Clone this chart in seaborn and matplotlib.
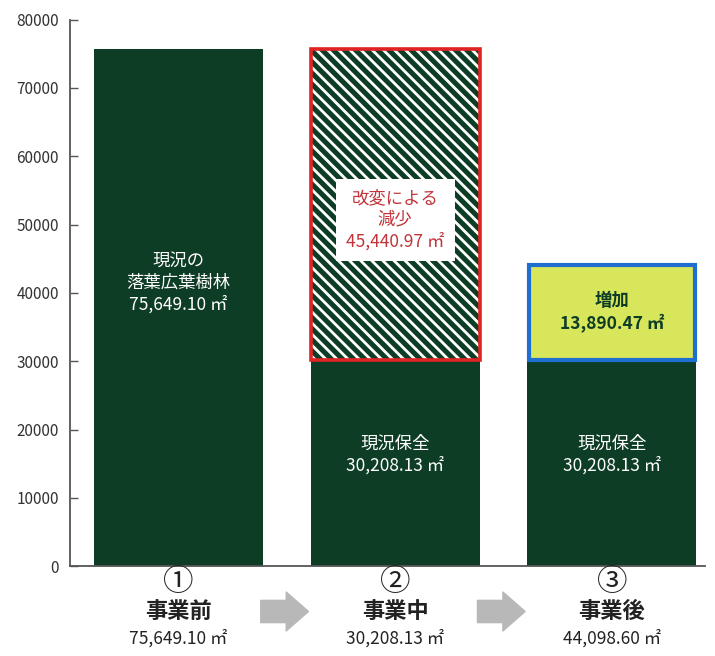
import numpy as np
import pandas as pd
import matplotlib
matplotlib.use("Agg")
import matplotlib.pyplot as plt
import matplotlib.transforms as mtransforms
import seaborn as sns

# data
stages = ["事業前", "事業中", "事業後"]
stage_marks = ["①", "②", "③"]
stage_totals = ["75,649.10 ㎡", "30,208.13 ㎡", "44,098.60 ㎡"]
kept_area = [75649.10, 30208.13, 30208.13]
lost_area = [0, 45440.97, 0]
added_area = [0, 0, 13890.47]
kept_labels = ["現況の\n落葉広葉樹林\n75,649.10 ㎡", "現況保全\n30,208.13 ㎡", "現況保全\n30,208.13 ㎡"]
kept_label_y = [41500, 16300, 16300]
lost_label = "改変による\n減少\n45,440.97 ㎡"
added_label = "増加\n13,890.47 ㎡"
yticks = [0, 10000, 20000, 30000, 40000, 50000, 60000, 70000, 80000]

green = "#0e3d26"
red_edge = "#e02424"
red_text = "#c0343a"
yellow = "#d8e65c"
blue_edge = "#1f6fd0"
grey = "#555555"

sns.set_theme(style="white")
plt.rcParams['font.family'] = ['Noto Sans CJK JP', 'DejaVu Sans']
plt.rcParams['hatch.color'] = 'white'
plt.rcParams['hatch.linewidth'] = 2.0

df = pd.DataFrame({"stage": stages, "kept": kept_area, "lost": lost_area, "added": added_area})

fig = plt.figure(figsize=(7.15, 6.56), dpi=100)
ax = fig.add_axes([0.098, 0.137, 0.888, 0.833])

width = 0.78
sns.barplot(data=df, x="stage", y="kept", order=stages, color=green, saturation=1,
            width=width, ax=ax, linewidth=0)

x = np.arange(len(stages))
lost = np.array(lost_area)
added = np.array(added_area)
kept = np.array(kept_area)

m = lost > 0
ax.bar(x[m], lost[m], bottom=kept[m], width=width, color=green, hatch="\\\\\\",
       edgecolor="white", linewidth=0)
ax.bar(x[m], lost[m], bottom=kept[m], width=width, fill=False, edgecolor=red_edge, linewidth=2.6)

m2 = added > 0
ax.bar(x[m2], added[m2], bottom=kept[m2], width=width * 0.985, color=yellow,
       edgecolor=blue_edge, linewidth=3)

# labels inside bars
for i in range(len(stages)):
    ax.text(x[i], kept_label_y[i], kept_labels[i], ha="center", va="center", color="white",
            fontsize=12.5, linespacing=1.25)

i_lost = int(np.argmax(lost))
ax.text(x[i_lost], kept[i_lost] + lost[i_lost] * 0.45, lost_label, ha="center", va="center",
        color=red_text, fontsize=12.5, linespacing=1.25,
        bbox=dict(boxstyle="square,pad=0.6", facecolor="white", edgecolor="none"))

i_add = int(np.argmax(added))
ax.text(x[i_add], kept[i_add] + added[i_add] / 2, added_label, ha="center", va="center",
        color=green, fontsize=12.5, fontweight="bold", linespacing=1.25)

# axes styling
ax.set_ylim(0, 80000)
ax.set_xlim(-0.5, 2.43)
ax.set_yticks(yticks)
ax.set_yticklabels([str(v) for v in yticks], fontsize=11, color="#333333")
ax.tick_params(axis="y", direction="in", length=6, width=1, color=grey, left=True, pad=8)
ax.tick_params(axis="x", bottom=False, labelbottom=False)
ax.set_xlabel("")
ax.set_ylabel("")
sns.despine(ax=ax, top=True, right=True)
for s in ("left", "bottom"):
    ax.spines[s].set_color(grey)
    ax.spines[s].set_linewidth(1.3)

# stage labels under the axis
trans = mtransforms.blended_transform_factory(ax.transData, ax.transAxes)
for i in range(len(stages)):
    ax.text(x[i], -0.03, stage_marks[i], transform=trans, ha="center", va="center",
            fontsize=22, color="#222222")
    ax.text(x[i], -0.083, stages[i], transform=trans, ha="center", va="center",
            fontsize=16, fontweight="bold", color="#222222")
    ax.text(x[i], -0.133, stage_totals[i], transform=trans, ha="center", va="center",
            fontsize=12.5, color="#222222")

# grey arrows between stages
for i in range(len(stages) - 1):
    ax.annotate("", xy=(x[i] + 0.6, -0.083), xytext=(x[i] + 0.38, -0.083),
                xycoords=trans, textcoords=trans, annotation_clip=False,
                arrowprops=dict(arrowstyle="simple,head_length=0.8,head_width=1.4,tail_width=0.8",
                                color="#b8b8b8", mutation_scale=20, shrinkA=0, shrinkB=0))

fig.savefig("out.png", dpi=100)
